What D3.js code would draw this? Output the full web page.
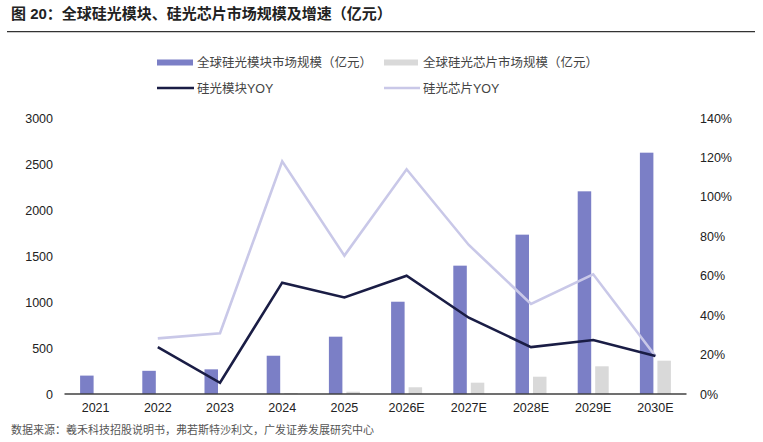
<!doctype html>
<html lang="zh">
<head>
<meta charset="UTF-8">
<title>图 20</title>
<script src="https://d3js.org/d3.v7.min.js"></script>
<style>
  body { margin: 0; background: #fff; }
  text { font-family: "Liberation Sans", Arial, "Noto Sans CJK SC", sans-serif; }
</style>
</head>
<body>
<script>
  // data
  var years = ["2021", "2022", "2023", "2024", "2025", "2026E", "2027E", "2028E", "2029E", "2030E"];
  var moduleSize = [200, 252, 268, 416, 623, 1003, 1395, 1732, 2203, 2623];
  var chipSize = [0, 0, 0, 10, 25, 73, 123, 188, 301, 362];
  var moduleYoy = [null, 0.238, 0.057, 0.565, 0.49, 0.60, 0.387, 0.238, 0.274, 0.193];
  var chipYoy = [null, 0.282, 0.308, 1.18, 0.702, 1.14, 0.756, 0.457, 0.607, 0.193];
  var leftTicks = [0, 500, 1000, 1500, 2000, 2500, 3000];
  var rightTicks = [0, 0.2, 0.4, 0.6, 0.8, 1.0, 1.2, 1.4];

  var width = 763, height = 442;
  var colModule = "#7b7fc6", colChip = "#d9d9d9", colModYoy = "#1a1d45", colChipYoy = "#c9c8e8";

  var svg = d3.select("body").append("svg")
      .attr("width", width)
      .attr("height", height);

  // title + rule
  svg.append("text")
      .attr("x", 11).attr("y", 19)
      .attr("font-size", "15px")
      .attr("font-weight", "bold")
      .attr("fill", "#222")
      .text("图 20：全球硅光模块、硅光芯片市场规模及增速（亿元）");
  svg.append("line")
      .attr("x1", 7).attr("x2", 755)
      .attr("y1", 31.7).attr("y2", 31.7)
      .attr("stroke", "#333").attr("stroke-width", 1.3);

  // scales
  var x = d3.scaleBand().domain(years).range([64.5, 686.5]).padding(0);
  var yL = d3.scaleLinear().domain([0, 3000]).range([394, 118]);
  var yR = d3.scaleLinear().domain([0, 1.4]).range([394, 118]);

  var g = svg.append("g");

  // bars
  g.selectAll(".mod").data(years).enter().append("rect")
      .attr("x", function(d) { return x(d) + x.bandwidth() / 2 - 15.5; })
      .attr("width", 13.5)
      .attr("y", function(d, i) { return yL(moduleSize[i]); })
      .attr("height", function(d, i) { return yL(0) - yL(moduleSize[i]); })
      .attr("fill", colModule);

  g.selectAll(".chip").data(years).enter().append("rect")
      .attr("x", function(d) { return x(d) + x.bandwidth() / 2 + 2; })
      .attr("width", 13.5)
      .attr("y", function(d, i) { return yL(chipSize[i]); })
      .attr("height", function(d, i) { return yL(0) - yL(chipSize[i]); })
      .attr("fill", colChip);

  // lines
  var line = d3.line()
      .defined(function(d) { return d[1] != null; })
      .x(function(d) { return x(d[0]) + x.bandwidth() / 2; })
      .y(function(d) { return yR(d[1]); });

  g.append("path")
      .datum(years.map(function(d, i) { return [d, chipYoy[i]]; }))
      .attr("d", line)
      .attr("fill", "none")
      .attr("stroke", colChipYoy)
      .attr("stroke-width", 2.6);

  g.append("path")
      .datum(years.map(function(d, i) { return [d, moduleYoy[i]]; }))
      .attr("d", line)
      .attr("fill", "none")
      .attr("stroke", colModYoy)
      .attr("stroke-width", 2.6);

  // base line
  g.append("line")
      .attr("x1", 64.5).attr("x2", 686.5)
      .attr("y1", yL(0)).attr("y2", yL(0))
      .attr("stroke", "#404040").attr("stroke-width", 1.5);

  // axes
  var axL = g.append("g")
      .attr("transform", "translate(53,0)")
      .call(d3.axisLeft(yL).tickValues(leftTicks).tickSize(0).tickPadding(0).tickFormat(d3.format("d")));
  var axR = g.append("g")
      .attr("transform", "translate(700,0)")
      .call(d3.axisRight(yR).tickValues(rightTicks).tickSize(0).tickPadding(0).tickFormat(d3.format(".0%")));
  var axX = g.append("g")
      .attr("transform", "translate(0,403)")
      .call(d3.axisBottom(x).tickSize(0).tickPadding(0));

  [axL, axR, axX].forEach(function(a) {
    a.select(".domain").remove();
    a.selectAll("text")
        .attr("font-size", "12.5px")
        .attr("fill", "#222")
        .style("font-family", "'Liberation Sans', Arial, sans-serif");
  });

  // legend
  var leg = svg.append("g").attr("font-size", "12.5px").attr("fill", "#444");
  leg.append("rect").attr("x", 157).attr("y", 59.5).attr("width", 36).attr("height", 6).attr("fill", colModule);
  leg.append("text").attr("x", 197).attr("y", 67).text("全球硅光模块市场规模（亿元）");
  leg.append("rect").attr("x", 384).attr("y", 59.5).attr("width", 34).attr("height", 6).attr("fill", colChip);
  leg.append("text").attr("x", 423).attr("y", 67).text("全球硅光芯片市场规模（亿元）");
  leg.append("line").attr("x1", 157).attr("x2", 194).attr("y1", 88).attr("y2", 88)
      .attr("stroke", colModYoy).attr("stroke-width", 2.6);
  leg.append("text").attr("x", 197).attr("y", 93).text("硅光模块YOY");
  leg.append("line").attr("x1", 384).attr("x2", 420).attr("y1", 88).attr("y2", 88)
      .attr("stroke", colChipYoy).attr("stroke-width", 2.6);
  leg.append("text").attr("x", 423).attr("y", 93).text("硅光芯片YOY");

  // source
  svg.append("text")
      .attr("x", 11).attr("y", 434)
      .attr("font-size", "11px")
      .attr("fill", "#555")
      .text("数据来源：羲禾科技招股说明书，弗若斯特沙利文，广发证券发展研究中心");
</script>
</body>
</html>
